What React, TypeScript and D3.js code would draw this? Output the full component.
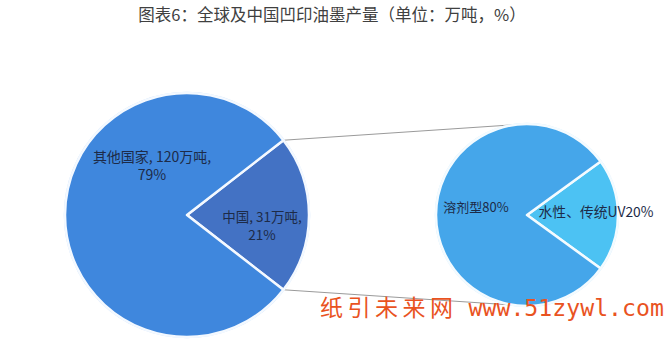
import React from "react";
import * as d3 from "d3";

const title = "图表6：全球及中国凹印油墨产量（单位：万吨，%）";

// Primary pie: global output split
const mainNames = ["中国", "其他国家"];
const mainTons = [31, 120];
const mainPct = [21, 79];
const mainColors = ["#4372c4", "#3f87dd"];

// Secondary pie: composition of China's output
const subNames = ["水性、传统UV", "溶剂型"];
const subPct = [20, 80];
const subColors = ["#4cc2f3", "#45a6ea"];

const W = 672;
const H = 354;

export default function App() {
  const c1 = { x: 187, y: 215 };
  const r1 = 122;
  const c2 = { x: 527, y: 215 };
  const r2 = 91;

  const mainData = mainNames.map((n, i) => ({ name: n, tons: mainTons[i], pct: mainPct[i], color: mainColors[i] }));
  const subData = subNames.map((n, i) => ({ name: n, pct: subPct[i], color: subColors[i] }));

  // First slice is centred on the positive x direction (d3 angles start at 12 o'clock)
  const mainSpan = (mainPct[0] / 100) * 2 * Math.PI;
  const pie1 = d3
    .pie<any>()
    .value((d) => d.pct)
    .sort(null)
    .startAngle(Math.PI / 2 - mainSpan / 2)
    .endAngle(Math.PI / 2 - mainSpan / 2 + 2 * Math.PI);
  const subSpan = (subPct[0] / 100) * 2 * Math.PI;
  const pie2 = d3
    .pie<any>()
    .value((d) => d.pct)
    .sort(null)
    .startAngle(Math.PI / 2 - subSpan / 2)
    .endAngle(Math.PI / 2 - subSpan / 2 + 2 * Math.PI);

  const arc1 = d3.arc<any>().innerRadius(0).outerRadius(r1);
  const arc2 = d3.arc<any>().innerRadius(0).outerRadius(r2);
  const arcs1 = pie1(mainData);
  const arcs2 = pie2(subData);

  // connector lines from the edges of the China slice to top/bottom of the secondary pie
  const a0 = arcs1[0].startAngle;
  const a1 = arcs1[0].endAngle;
  const pt = (c: { x: number; y: number }, r: number, a: number) => [c.x + r * Math.sin(a), c.y - r * Math.cos(a)];
  const p1 = pt(c1, r1, a0);
  const p2 = pt(c1, r1, a1);
  const q1 = pt(c2, r2, -0.11);
  const q2 = pt(c2, r2, Math.PI);

  const textColor = "#1d2b48";
  const font = "'Noto Sans CJK SC', 'Noto Sans', sans-serif";

  return (
    <svg width={W} height={H} style={{ position: "absolute", left: 0, top: 0, background: "#fff" }}>
      <text x={332} y={21} textAnchor="middle" fontFamily={font} fontSize={16.5} fill="#404040">
        {title}
      </text>

      <line x1={p1[0]} y1={p1[1]} x2={q1[0]} y2={q1[1]} stroke="#9a9a9a" strokeWidth={1} />
      <line x1={p2[0]} y1={p2[1]} x2={q2[0]} y2={q2[1]} stroke="#9a9a9a" strokeWidth={1} />

      <g transform={`translate(${c1.x},${c1.y})`}>
        <circle r={r1 + 0.5} fill="none" stroke="#cfe3fa" strokeWidth={1.5} />
        {arcs1.map((a, i) => (
          <path key={i} d={arc1(a) as string} fill={a.data.color} stroke="#f4f9ff" strokeWidth={2.5} strokeLinejoin="round" />
        ))}
      </g>

      <g transform={`translate(${c2.x},${c2.y})`}>
        <circle r={r2 + 0.5} fill="none" stroke="#d4ecfb" strokeWidth={1.5} />
        {arcs2.map((a, i) => (
          <path key={i} d={arc2(a) as string} fill={a.data.color} stroke="#f4fbff" strokeWidth={2.5} strokeLinejoin="round" />
        ))}
      </g>

      {/* primary pie labels */}
      <text fontFamily={font} fontSize={14} fill={textColor} textAnchor="middle">
        <tspan x={152} y={162}>{`${mainData[1].name}, ${mainData[1].tons}万吨,`}</tspan>
        <tspan x={152} y={180}>{`${mainData[1].pct}%`}</tspan>
      </text>
      <text fontFamily={font} fontSize={13.5} fill={textColor} textAnchor="middle">
        <tspan x={262} y={222}>{`${mainData[0].name}, ${mainData[0].tons}万吨,`}</tspan>
        <tspan x={262} y={240}>{`${mainData[0].pct}%`}</tspan>
      </text>

      {/* secondary pie labels */}
      <text x={476} y={212} fontFamily={font} fontSize={13} fill={textColor} textAnchor="middle">
        {`${subData[1].name}${subData[1].pct}%`}
      </text>
      <text x={596} y={217} fontFamily={font} fontSize={13.8} fill={textColor} textAnchor="middle">
        {`${subData[0].name}${subData[0].pct}%`}
      </text>

      <text x={320} y={316} fontSize={23} fill="#e9531f">
        <tspan fontFamily={font} letterSpacing={4.5}>纸引未来网</tspan>
        <tspan fontFamily="'DejaVu Sans Mono', 'Liberation Mono', monospace" dx={11} fontSize={23.2}>
          www.51zywl.com
        </tspan>
      </text>
    </svg>
  );
}
